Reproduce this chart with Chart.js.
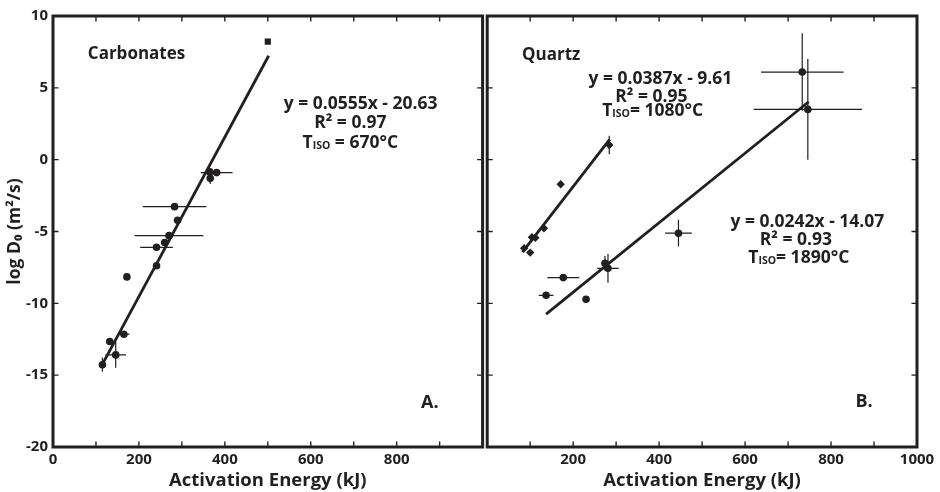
<!DOCTYPE html>
<html>
<head>
<meta charset="utf-8">
<script src="https://cdn.jsdelivr.net/npm/chart.js@4.4.1/dist/chart.umd.min.js"></script>
<style>
  html, body { margin: 0; padding: 0; background: #fff; }
  #wrap { position: relative; width: 940px; height: 492px; overflow: hidden; }
  canvas { position: absolute; top: 0; }
  #left { left: 0; }
  #right { left: 483px; }
</style>
</head>
<body>
<div id="wrap">
  <canvas id="left" width="487" height="492" style="width:487px;height:492px"></canvas>
  <canvas id="right" width="457" height="492" style="width:457px;height:492px"></canvas>
</div>
<script>
const INK = '#231f20';
const FONT = "'Open Sans', 'DejaVu Sans', sans-serif";

// ---- Carbonates (panel A) ----
const carbEnergy   = [381, 365, 366, 283, 290, 270, 260, 241, 241, 172, 165, 132, 146, 115];
const carbLogD     = [-0.9, -0.85, -1.3, -3.27, -4.22, -5.29, -5.77, -6.1, -7.38, -8.16, -12.15, -12.66, -13.59, -14.27];
const carbEnergyErr = [37, 0, 0, 74, 0, 80, 0, 38, 0, 0, 13, 0, 24, 0];
const carbLogDErr   = [0, 0, 0.4, 0, 0, 0, 0, 0, 0, 0, 0, 0, 0.9, 0.5];
const carbSquareEnergy = [500];
const carbSquareLogD   = [8.21];
const carbFit = { slope: 0.0555, intercept: -20.63, from: 113, to: 502 };

// ---- Quartz (panel B) ----
const qDiaEnergy = [284, 171, 132, 112, 104, 86, 100];
const qDiaLogD   = [1.02, -1.71, -4.77, -5.43, -5.4, -6.17, -6.47];
const qDiaEnergyErr = [0, 0, 0, 0, 0, 0, 0];
const qDiaLogDErr   = [0.65, 0, 0, 0, 0, 0, 0];
const qCirEnergy = [733, 746, 445, 274, 281, 177, 137, 230];
const qCirLogD   = [6.1, 3.5, -5.12, -7.21, -7.56, -8.21, -9.44, -9.72];
const qCirEnergyErr = [96, 126, 31, 0, 25, 37, 17, 0];
const qCirLogDErr   = [2.7, 3.5, 0.93, 0.5, 1.0, 0, 0, 0];
const qFitLow  = { slope: 0.0387, intercept: -9.61, from: 82, to: 285 };
const qFitHigh = { slope: 0.0242, intercept: -14.07, from: 137, to: 748 };

const xTicks = [0, 200, 400, 600, 800, 1000];
const yTicks = [-20, -15, -10, -5, 0, 5, 10];

function points(xs, ys) { return xs.map((x, i) => ({ x, y: ys[i] })); }
function errs(dx, dy) { return dx.map((v, i) => ({ dx: v, dy: dy[i] })); }
function fitLine(f) {
  return [f.from, f.to].map(x => ({ x, y: f.slope * x + f.intercept }));
}

// error bars behind the markers
const errorBars = {
  id: 'errorBars',
  beforeDatasetsDraw(chart) {
    const { ctx, scales: { x, y } } = chart;
    ctx.save();
    ctx.strokeStyle = INK;
    ctx.lineWidth = 1.2;
    ctx.beginPath();
    chart.data.datasets.forEach(ds => {
      if (!ds.errors) return;
      ds.data.forEach((p, i) => {
        const e = ds.errors[i];
        const px = x.getPixelForValue(p.x), py = y.getPixelForValue(p.y);
        if (e.dx) {
          ctx.moveTo(x.getPixelForValue(p.x - e.dx), py);
          ctx.lineTo(x.getPixelForValue(p.x + e.dx), py);
        }
        if (e.dy) {
          ctx.moveTo(px, y.getPixelForValue(p.y - e.dy));
          ctx.lineTo(px, y.getPixelForValue(p.y + e.dy));
        }
      });
    });
    ctx.stroke();
    ctx.restore();
  }
};

// box frame with inward tick marks on all four sides
const frame = {
  id: 'frame',
  afterDraw(chart) {
    const { ctx, chartArea: a, scales: { x, y } } = chart;
    ctx.save();
    ctx.strokeStyle = INK;
    ctx.lineWidth = 1.4;
    ctx.beginPath();
    for (let v = 100; v < 1000; v += 100) {
      const px = x.getPixelForValue(v);
      ctx.moveTo(px, a.top); ctx.lineTo(px, a.top + 5.5);
      ctx.moveTo(px, a.bottom); ctx.lineTo(px, a.bottom - 5.5);
    }
    for (let v = -15; v <= 5; v += 5) {
      const py = y.getPixelForValue(v);
      ctx.moveTo(a.left, py); ctx.lineTo(a.left + 5.5, py);
      ctx.moveTo(a.right, py); ctx.lineTo(a.right - 5.5, py);
    }
    ctx.stroke();
    ctx.lineWidth = 3;
    ctx.beginPath();
    ctx.rect(a.left, a.top, a.right - a.left, a.bottom - a.top);
    ctx.stroke();
    ctx.restore();
  }
};

// text notes anchored in data coordinates; parts = [text, size, drop]
const notes = {
  id: 'notes',
  afterDraw(chart, args, opts) {
    const { ctx, scales: { x, y } } = chart;
    ctx.save();
    ctx.fillStyle = INK;
    ctx.textBaseline = 'middle';
    (opts.items || []).forEach(it => {
      const parts = it.parts || [[it.text, it.size || 17.5, 0]];
      let w = 0;
      parts.forEach(([t, s]) => { ctx.font = `bold ${s}px ${FONT}`; w += ctx.measureText(t).width; });
      let px = x.getPixelForValue(it.x);
      const py = y.getPixelForValue(it.y);
      if (it.align === 'center') px -= w / 2;
      ctx.textAlign = 'left';
      parts.forEach(([t, s, d]) => {
        ctx.font = `bold ${s}px ${FONT}`;
        ctx.fillText(t, px, py + d);
        px += ctx.measureText(t).width;
      });
    });
    ctx.restore();
  }
};

function scales(hideTick, showY) {
  const tickFont = { family: FONT, size: 15, weight: 'bold' };
  return {
    x: {
      type: 'linear', min: 0, max: 1000,
      afterBuildTicks: s => { s.ticks = xTicks.map(v => ({ value: v })); },
      ticks: { font: tickFont, color: INK, padding: 4, maxRotation: 0,
               callback: v => (v === hideTick ? '' : v) },
      grid: { display: false, drawTicks: false },
      border: { display: false },
      title: { display: true, text: 'Activation Energy (kJ)', color: INK,
               font: { family: FONT, size: 18.5, weight: 'bold' }, padding: { top: 0, bottom: 0 } },
      afterFit: s => { s.height = 45; }
    },
    y: {
      type: 'linear', min: -20, max: 10, display: showY,
      afterBuildTicks: s => { s.ticks = yTicks.map(v => ({ value: v })); },
      ticks: { font: tickFont, color: INK, padding: 5 },
      grid: { display: false, drawTicks: false },
      border: { display: false },
      title: { display: showY, text: 'log D\u2080 (m\u00b2/s)', color: INK,
               font: { family: FONT, size: 17.5, weight: 'bold' }, padding: { top: 5, bottom: 0 } },
      afterFit: s => { s.width = showY ? 53 : 0; }
    }
  };
}

const common = {
  responsive: false,
  animation: false,
  devicePixelRatio: 1,
  events: []
};

const pointStyle = { backgroundColor: INK, borderWidth: 0, showLine: false };
const lineStyle = { borderColor: INK, borderWidth: 2.8, pointRadius: 0, showLine: true, fill: false };

new Chart(document.getElementById('left'), {
  type: 'scatter',
  data: {
    datasets: [
      { label: 'Carbonates', data: points(carbEnergy, carbLogD),
        errors: errs(carbEnergyErr, carbLogDErr), pointStyle: 'circle', pointRadius: 3.8, ...pointStyle },
      { label: 'Carbonates (square)', data: points(carbSquareEnergy, carbSquareLogD),
        pointStyle: 'rect', pointRadius: 4.4, ...pointStyle },
      { label: 'Carbonates fit', data: fitLine(carbFit), ...lineStyle }
    ]
  },
  options: {
    ...common,
    layout: { padding: { left: 0, right: 2, top: 16, bottom: 0 } },
    scales: scales(1000, true),
    plugins: {
      legend: { display: false }, tooltip: { enabled: false },
      notes: { items: [
        { text: 'Carbonates', x: 81, y: 7.36, size: 17 },
        { text: 'y = 0.0555x - 20.63', x: 716, y: 3.88, align: 'center' },
        { text: 'R\u00b2 = 0.97', x: 692, y: 2.58, align: 'center' },
        { parts: [['T', 17.5, 0], ['ISO', 10.5, 3], [' = 670\u00b0C', 17.5, 0]], x: 692, y: 1.16, align: 'center' },
        { text: 'A.', x: 877, y: -16.9, align: 'center', size: 18 }
      ] }
    }
  },
  plugins: [errorBars, frame, notes]
});

new Chart(document.getElementById('right'), {
  type: 'scatter',
  data: {
    datasets: [
      { label: 'Quartz (diamonds)', data: points(qDiaEnergy, qDiaLogD),
        errors: errs(qDiaEnergyErr, qDiaLogDErr), pointStyle: 'rectRot', pointRadius: 4.2, ...pointStyle },
      { label: 'Quartz (circles)', data: points(qCirEnergy, qCirLogD),
        errors: errs(qCirEnergyErr, qCirLogDErr), pointStyle: 'circle', pointRadius: 3.8, ...pointStyle },
      { label: 'Quartz fit (low)', data: fitLine(qFitLow), ...lineStyle },
      { label: 'Quartz fit (high)', data: fitLine(qFitHigh), ...lineStyle }
    ]
  },
  options: {
    ...common,
    layout: { padding: { left: 2, right: 23, top: 16, bottom: 0 } },
    scales: scales(0, false),
    plugins: {
      legend: { display: false }, tooltip: { enabled: false },
      notes: { items: [
        { text: 'Quartz', x: 81, y: 7.29, size: 17 },
        { text: 'y = 0.0387x - 9.61', x: 403, y: 5.62, align: 'center' },
        { text: 'R\u00b2 = 0.95', x: 382, y: 4.36, align: 'center' },
        { parts: [['T', 17.5, 0], ['ISO', 10.5, 3], ['= 1080\u00b0C', 17.5, 0]], x: 385, y: 3.41, align: 'center' },
        { text: 'y = 0.0242x - 14.07', x: 745, y: -4.31, align: 'center' },
        { text: 'R\u00b2 = 0.93', x: 718, y: -5.59, align: 'center' },
        { parts: [['T', 17.5, 0], ['ISO', 10.5, 3], ['= 1890\u00b0C', 17.5, 0]], x: 725, y: -6.84, align: 'center' },
        { text: 'B.', x: 877, y: -16.83, align: 'center', size: 18 }
      ] }
    }
  },
  plugins: [errorBars, frame, notes]
});
</script>
</body>
</html>
